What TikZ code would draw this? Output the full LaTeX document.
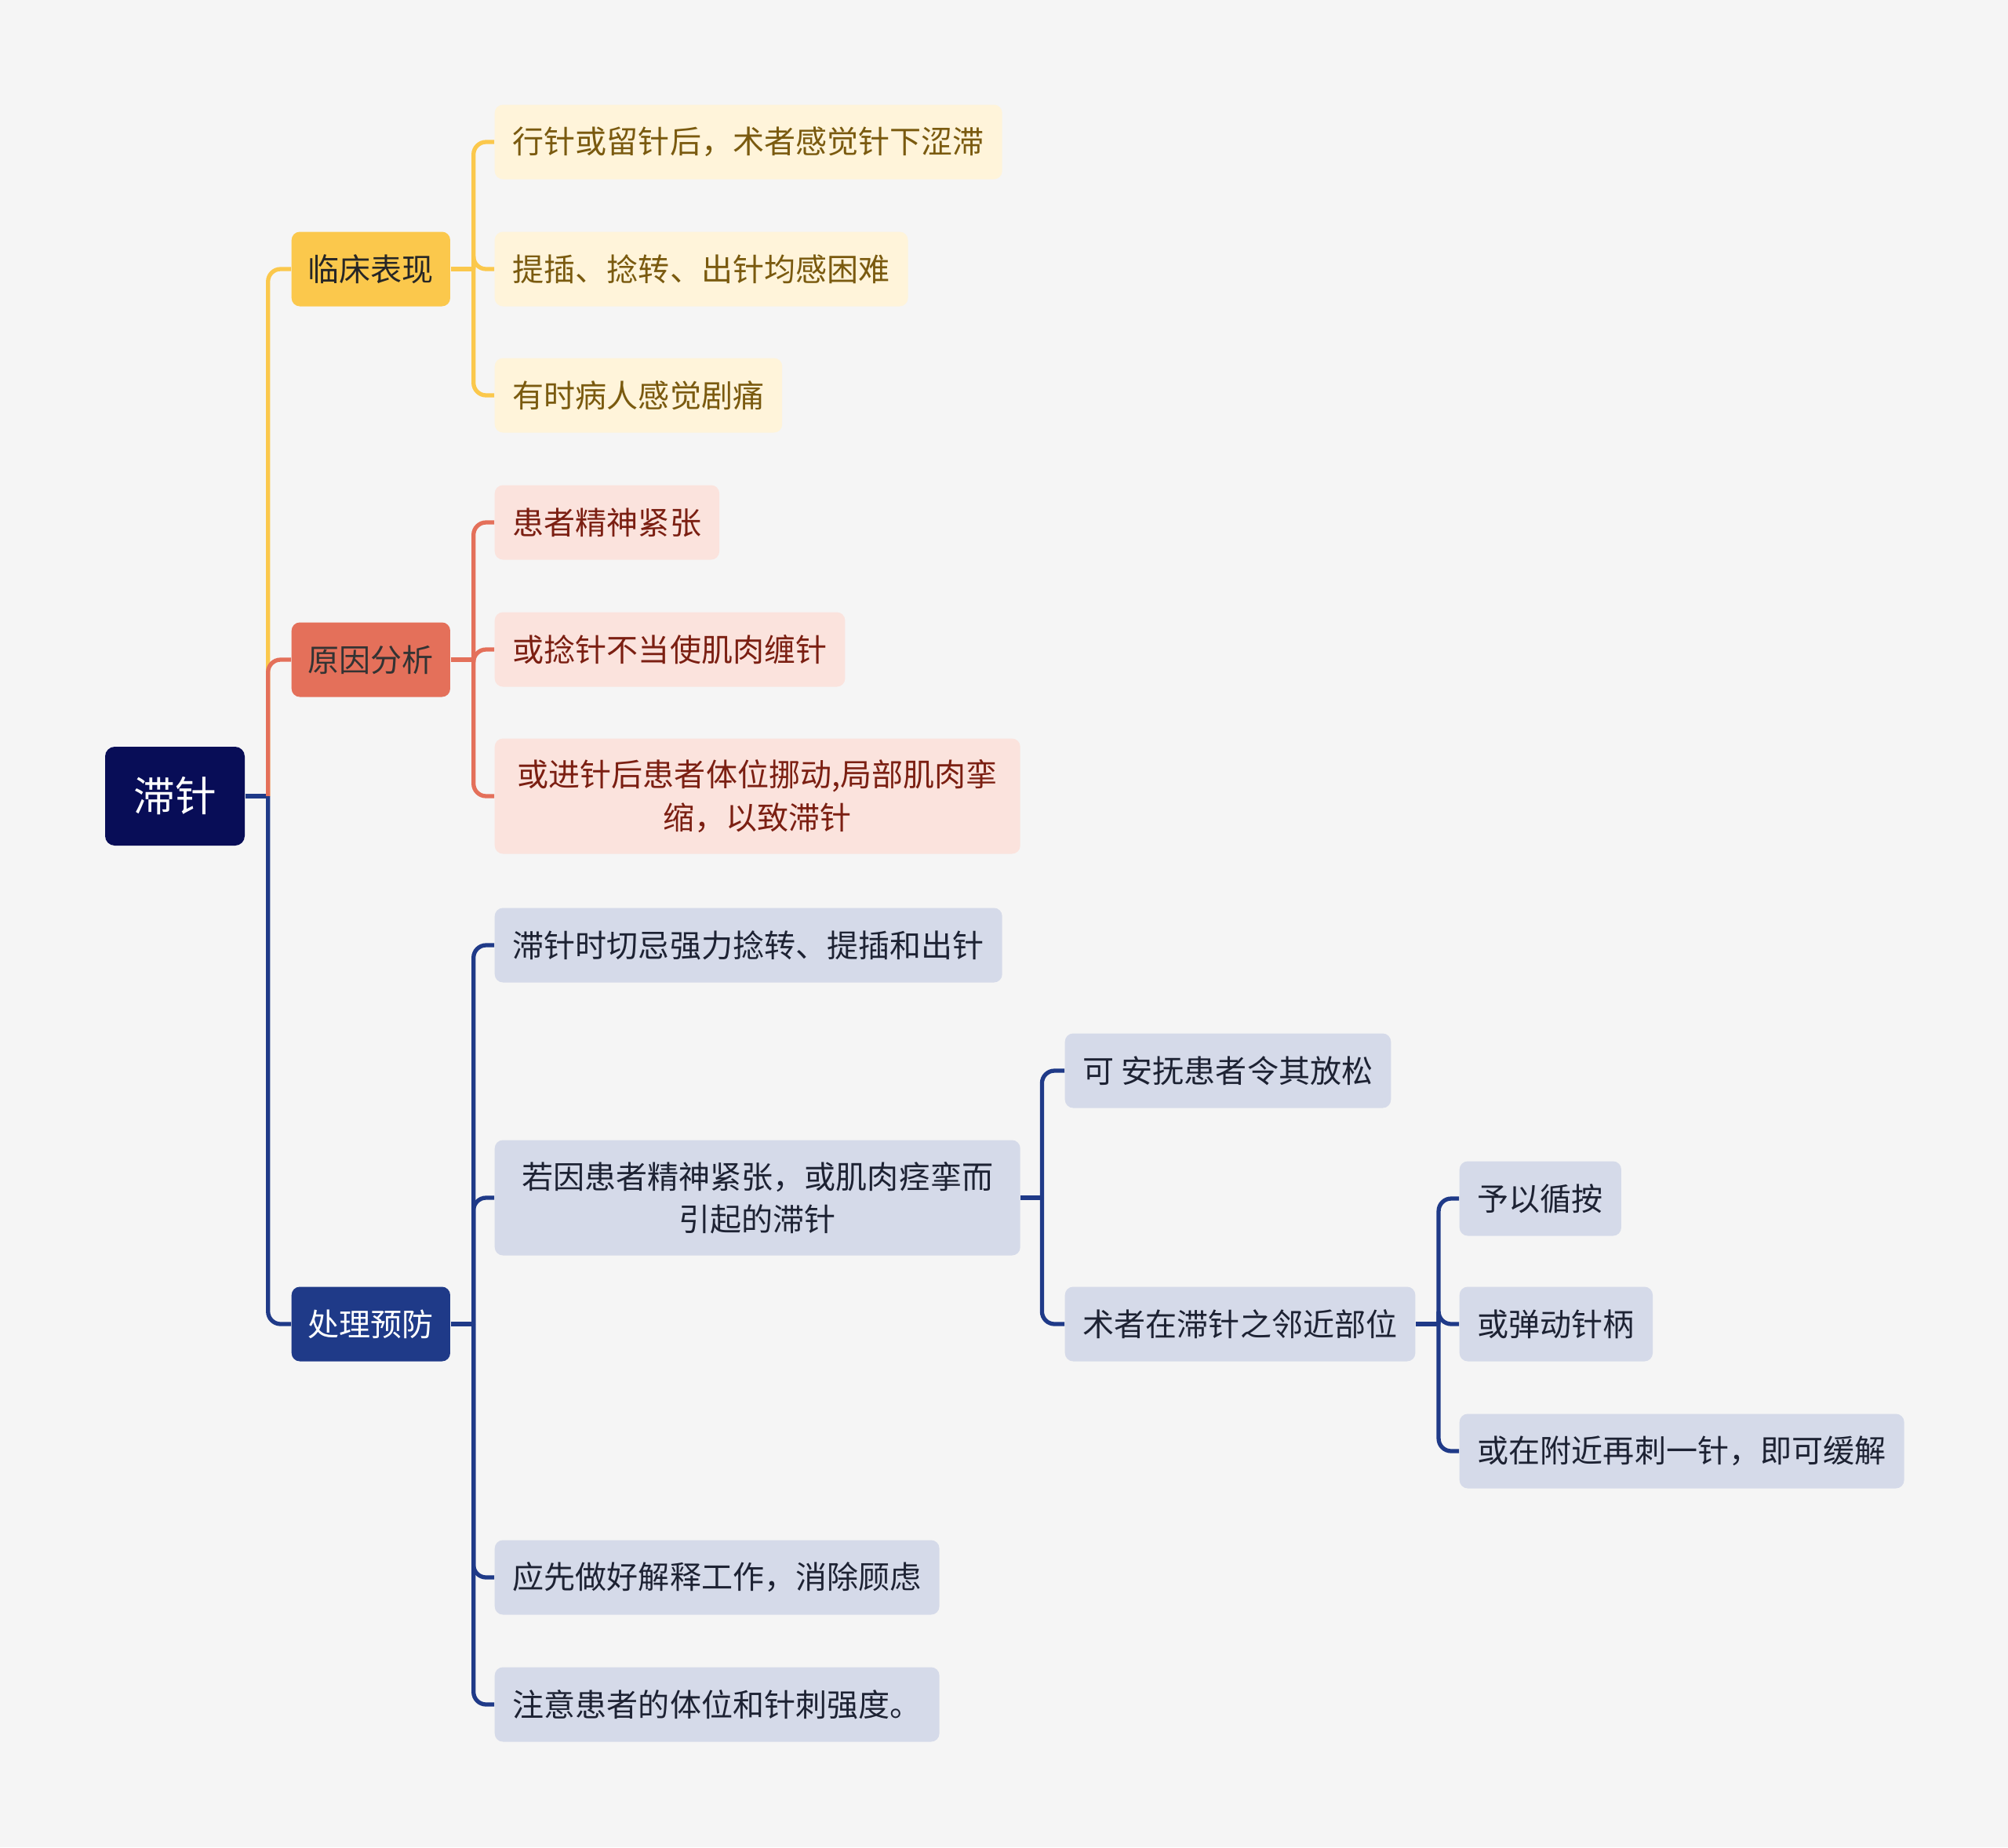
\documentclass[tikz,border=0pt]{standalone}
\usepackage{fontspec}
\setmainfont{Noto Sans CJK SC}
\usepackage{xcolor}
\usepackage{tikz}
\usetikzlibrary{positioning}
\definecolor{bgcol}{HTML}{F5F5F5}
\definecolor{navy}{HTML}{080D57}
\definecolor{ylw}{HTML}{FBC84C}
\definecolor{ylwleaf}{HTML}{FFF4DA}
\definecolor{ylwtext}{HTML}{7A5A0F}
\definecolor{coral}{HTML}{E4705A}
\definecolor{coralleaf}{HTML}{FBE3DD}
\definecolor{coraltext}{HTML}{7B1F12}
\definecolor{blu}{HTML}{1F3A88}
\definecolor{bluleaf}{HTML}{D5DAE9}
\definecolor{blutext}{HTML}{1D2233}

\begin{document}
\begin{tikzpicture}[
    rootbox/.style={fill=navy, rounded corners=3.5pt, minimum width=1.78cm,
                    minimum height=1.26cm, text=white,
                    font=\fontsize{15pt}{18pt}\selectfont},
    topic/.style={fill=#1, rounded corners=3pt, minimum height=0.95cm,
                  inner xsep=0.21cm, anchor=west,
                  font=\fontsize{11.4pt}{15.4pt}\selectfont},
    leaf/.style={fill=#1, rounded corners=3pt, minimum height=0.95cm,
                 inner xsep=0.23cm, anchor=west, align=center,
                 font=\fontsize{11.4pt}{15.4pt}\selectfont},
    conn/.style={draw=#1, line width=1.5pt, rounded corners=0.16cm}
]
\fill[bgcol] (0,0) rectangle (25.6,-23.55);
\useasboundingbox (0,0) rectangle (25.6,-23.55);

% root and main branches
\node[rootbox] (root) at (2.23,-10.15) {滞针};
\node[topic=ylw,   text=black!85] (k1) at (3.71,-3.43)  {临床表现};
\node[topic=coral, text=black!80] (k2) at (3.71,-8.41)  {原因分析};
\node[topic=blu,   text=white]    (k3) at (3.71,-16.88) {处理预防};

% 临床表现
\node[leaf=ylwleaf, text=ylwtext] (a1) at (6.30,-1.81) {行针或留针后，术者感觉针下涩滞};
\node[leaf=ylwleaf, text=ylwtext] (a2) at (6.30,-3.43) {提插、捻转、出针均感困难};
\node[leaf=ylwleaf, text=ylwtext] (a3) at (6.30,-5.04) {有时病人感觉剧痛};

% 原因分析
\node[leaf=coralleaf, text=coraltext] (b1) at (6.30,-6.66) {患者精神紧张};
\node[leaf=coralleaf, text=coraltext] (b2) at (6.30,-8.28) {或捻针不当使肌肉缠针};
\node[leaf=coralleaf, text=coraltext, minimum width=6.70cm, minimum height=1.47cm]
     (b3) at (6.30,-10.15) {或进针后患者体位挪动,局部肌肉挛\\缩，以致滞针};

% 处理预防
\node[leaf=bluleaf, text=blutext] (c1) at (6.30,-12.05) {滞针时切忌强力捻转、提插和出针};
\node[leaf=bluleaf, text=blutext, minimum width=6.70cm, minimum height=1.47cm]
     (c2) at (6.30,-15.27) {若因患者精神紧张，或肌肉痉挛而\\引起的滞针};
\node[leaf=bluleaf, text=blutext] (c3) at (6.30,-20.11) {应先做好解释工作，消除顾虑};
\node[leaf=bluleaf, text=blutext] (c4) at (6.30,-21.73) {注意患者的体位和针刺强度。};

\node[leaf=bluleaf, text=blutext] (d1) at (13.57,-13.65) {可 安抚患者令其放松};
\node[leaf=bluleaf, text=blutext] (d2) at (13.57,-16.88) {术者在滞针之邻近部位};

\node[leaf=bluleaf, text=blutext] (e1) at (18.60,-15.28) {予以循按};
\node[leaf=bluleaf, text=blutext] (e2) at (18.60,-16.88) {或弹动针柄};
\node[leaf=bluleaf, text=blutext] (e3) at (18.60,-18.50) {或在附近再刺一针，即可缓解};

% connectors
\draw[conn=blu] (root.east) -- ++(0.29,0) coordinate (rt);
\draw[conn=ylw]   (rt) |- (k1.west);
\draw[conn=coral] (rt) |- (k2.west);
\draw[conn=blu]   (rt) |- (k3.west);

\draw[conn=ylw] (k1.east) -- ++(0.29,0) coordinate (kt1);
\foreach \c in {a1,a2,a3} \draw[conn=ylw] (kt1) |- (\c.west);
\draw[conn=coral] (k2.east) -- ++(0.29,0) coordinate (kt2);
\foreach \c in {b1,b2,b3} \draw[conn=coral] (kt2) |- (\c.west);
\draw[conn=blu] (k3.east) -- ++(0.29,0) coordinate (kt3);
\foreach \c in {c1,c2,c3,c4} \draw[conn=blu] (kt3) |- (\c.west);

\draw[conn=blu] (c2.east) -- ++(0.27,0) coordinate (ct2);
\foreach \c in {d1,d2} \draw[conn=blu] (ct2) |- (\c.west);
\draw[conn=blu] (d2.east) -- ++(0.29,0) coordinate (dt2);
\foreach \c in {e1,e2,e3} \draw[conn=blu] (dt2) |- (\c.west);
\end{tikzpicture}
\end{document}
